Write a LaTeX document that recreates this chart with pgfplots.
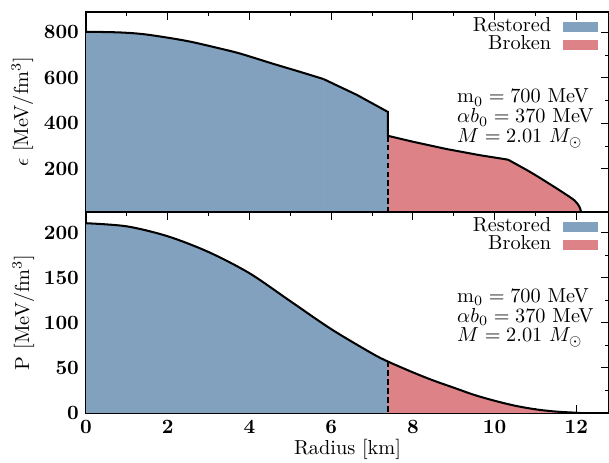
\documentclass[border=0pt]{standalone}
\usepackage{pgfplots}
\pgfplotsset{compat=1.18}
\usetikzlibrary{calc}

\definecolor{restored}{RGB}{130,161,190}
\definecolor{broken}{RGB}{221,131,135}

\tikzset{note/.style={anchor=base west, inner sep=0pt}}
\pgfplotsset{
  panel/.style={
    scale only axis, width=257.6pt,
    xmin=0, xmax=12.8,
    xtick={0,2,...,12}, minor x tick num=1,
    tick align=inside,
    tick style={black, line width=0.5pt},
    major tick length=3.8pt, minor tick length=2.2pt,
    axis line style={black, line width=0.7pt},
    tick label style={font=\boldmath},
    legend plot pos=right,
    legend cell align=right,
    legend image code/.code={\fill[##1] (0pt,-2.2pt) rectangle (17pt,2.2pt);},
    legend style={draw=none, fill=none, inner sep=0pt,
      at={(rel axis cs:0.979,0.975)}, anchor=north east,
      nodes={inner sep=0pt, text height=7pt, text depth=2pt},
      row sep=-0.2pt, column sep=5.6pt},
  },
  fillarea/.style={draw=#1, line width=0.3pt, fill=#1},
  curve/.style={forget plot, black, line width=1pt},
  boundary/.style={forget plot, black, line width=1pt, dash pattern=on 2.8pt off 1.6pt},
}

\begin{document}
\begin{tikzpicture}
% energy density
\begin{axis}[panel, name=top, height=98.5pt,
    ymin=10, ymax=890,
    ytick={200,400,600,800}, minor y tick num=1,
    xticklabels={},
    ylabel={$\epsilon$ [MeV/fm$^3$]},
    ylabel style={at={(axis description cs:-0.122,0.5)}, anchor=center},
  ]
\addplot[fillarea=restored, smooth] coordinates {
  (0,803) (0.82,800) (1.47,791) (2.45,763) (3.26,730) (3.77,707)
  (4.58,662) (5.23,627) (5.81,595)} \closedcycle;
\addplot[fillarea=broken] coordinates {
  (7.39,345) (8.0,319) (8.82,287) (9.63,260) (10.33,240)} \closedcycle;
\legend{Restored, Broken}
\addplot[forget plot, fillarea=restored] coordinates {
  (5.81,595) (6.63,525) (7.39,450) (7.39,0)} \closedcycle;
\addplot[forget plot, fillarea=broken, smooth] coordinates {
  (10.33,240) (10.86,187) (11.26,143) (11.67,96) (11.96,60) (12.08,31) (12.13,0)} \closedcycle;
\addplot[curve, smooth] coordinates {
  (0,803) (0.82,800) (1.47,791) (2.45,763) (3.26,730) (3.77,707)
  (4.58,662) (5.23,627) (5.81,595)};
\addplot[curve] coordinates {
  (5.81,595) (6.63,525) (7.39,450) (7.39,345)
  (8.0,319) (8.82,287) (9.63,260) (10.33,240)};
\addplot[curve, smooth] coordinates {
  (10.33,240) (10.86,187) (11.26,143) (11.67,96) (11.96,60) (12.08,31) (12.13,0)};
\addplot[curve] coordinates {(12.13,0) (12.8,0)};
\addplot[boundary] coordinates {(7.39,345) (7.39,10)};
\node[note] at (rel axis cs:0.709,0.545) {$\mathrm{m}_0 = 700$ MeV};
\node[note] at (rel axis cs:0.709,0.445) {$\alpha b_0 = 370$ MeV};
\node[note] at (rel axis cs:0.709,0.345) {$M = 2.01\ M_\odot$};
\coordinate (tl) at (rel axis cs:0,1);
\end{axis}
% pressure
\begin{axis}[panel, at={(top.south west)}, anchor=north west, height=99pt,
    ymin=0, ymax=223,
    ytick={0,50,100,150,200}, minor y tick num=1,
    xlabel={Radius [km]},
    xlabel style={at={(axis description cs:0.5,-0.184)}, anchor=center},
    ylabel={P [MeV/fm$^3$]},
    ylabel style={at={(axis description cs:-0.12,0.5)}, anchor=center},
  ]
\addplot[fillarea=restored, smooth] coordinates {
  (0,210.5) (1,207) (2,196) (3,178.5) (4,155) (5,124) (6,93) (7,66) (7.39,57)} \closedcycle;
\addplot[fillarea=broken, smooth] coordinates {
  (7.39,57) (8,45) (8.5,36) (9,28) (9.5,20) (10,13.5) (10.5,8) (11,4)
  (11.5,1.5) (12.1,0)} \closedcycle;
\legend{Restored, Broken}
\addplot[curve, smooth] coordinates {
  (0,210.5) (1,207) (2,196) (3,178.5) (4,155) (5,124) (6,93) (7,66) (7.39,57)
  (8,45) (8.5,36) (9,28) (9.5,20) (10,13.5) (10.5,8) (11,4)
  (11.5,1.5) (12.1,0)};
\addplot[curve] coordinates {(12.1,0) (12.8,0)};
\addplot[boundary] coordinates {(7.39,57) (7.39,0)};
\node[note] at (rel axis cs:0.709,0.551) {$\mathrm{m}_0 = 700$ MeV};
\node[note] at (rel axis cs:0.709,0.451) {$\alpha b_0 = 370$ MeV};
\node[note] at (rel axis cs:0.709,0.353) {$M = 2.01\ M_\odot$};
\coordinate (br) at (rel axis cs:1,0);
\end{axis}
\pgfresetboundingbox
\path[use as bounding box] ($(tl)+(-42.4pt,5.9pt)$) rectangle ($(br)+(0,-24.6pt)$);
\end{tikzpicture}
\end{document}
